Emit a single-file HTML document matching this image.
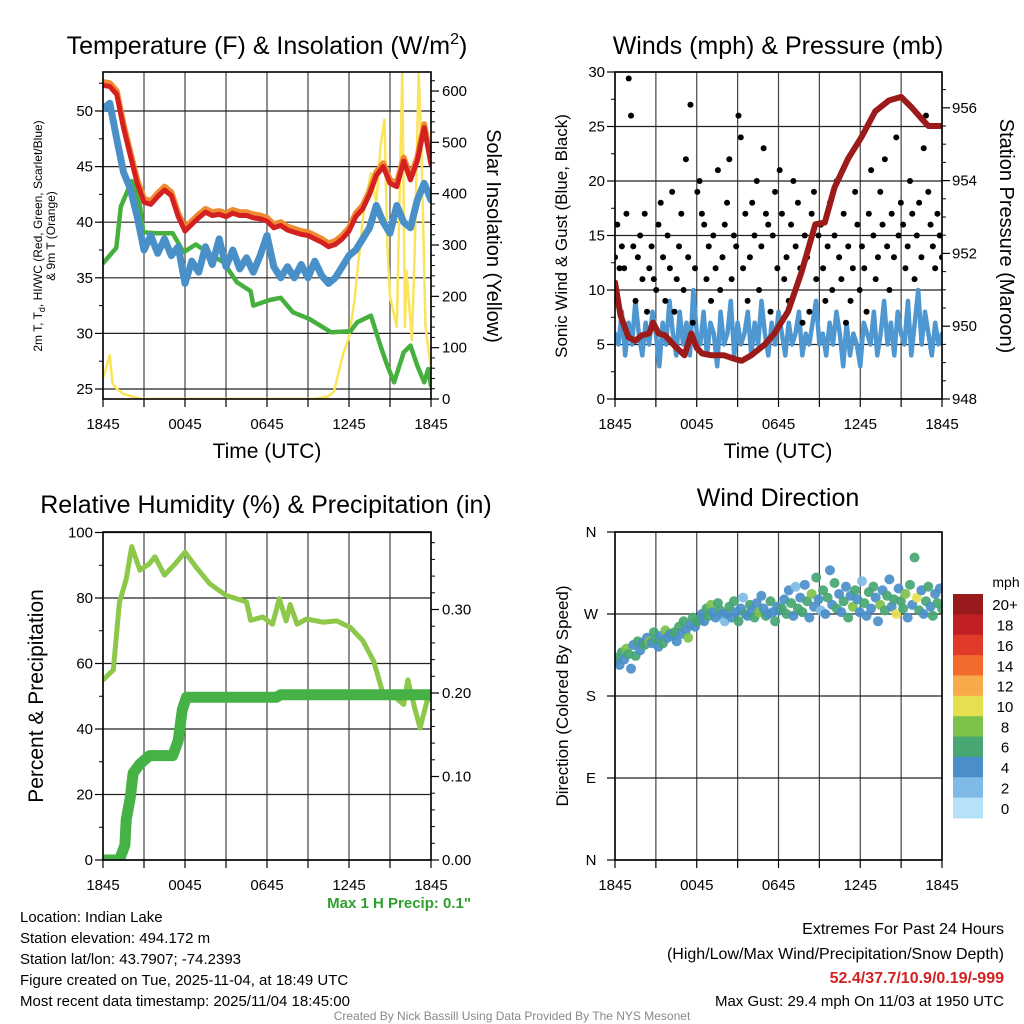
<!DOCTYPE html>
<html><head><meta charset="utf-8"><style>
html,body{margin:0;padding:0;background:#fff}
svg{display:block;font-family:"Liberation Sans",sans-serif}
</style></head><body>
<svg id="chart" width="1024" height="1024" viewBox="0 0 1024 1024" xmlns="http://www.w3.org/2000/svg">
<defs>
<clipPath id="c1"><rect x="103" y="72" width="328" height="327"/></clipPath>
<clipPath id="c2"><rect x="615" y="72" width="327" height="327"/></clipPath>
<clipPath id="c3"><rect x="103" y="532" width="328" height="328"/></clipPath>
<clipPath id="c4"><rect x="615" y="532" width="327" height="328"/></clipPath>
</defs>
<g font-size="25" fill="#000" text-anchor="middle">
<text x="267" y="54">Temperature (F) &amp; Insolation (W/m<tspan font-size="16" dy="-10">2</tspan><tspan dy="10">)</tspan></text>
<text x="778" y="54">Winds (mph) &amp; Pressure (mb)</text>
<text x="266" y="513">Relative Humidity (%) &amp; Precipitation (in)</text>
<text x="778" y="506">Wind Direction</text>
</g>
<g font-size="21" text-anchor="middle">
<text x="267" y="458">Time (UTC)</text>
<text x="778" y="458">Time (UTC)</text>
<text font-size="12" transform="translate(42,236) rotate(-90)">2m T, T<tspan font-size="9" dy="3">d</tspan><tspan dy="-3">, HI/WC (Red, Green, Scarlet/Blue)</tspan></text>
<text font-size="12" transform="translate(55,236) rotate(-90)">&amp; 9m T (Orange)</text>
<text font-size="20" transform="translate(487,236) rotate(90)">Solar Insolation (Yellow)</text>
<text font-size="17" transform="translate(567,236) rotate(-90)">Sonic Wind &amp; Gust (Blue, Black)</text>
<text font-size="20" transform="translate(1000,236) rotate(90)">Station Pressure (Maroon)</text>
<text font-size="21" transform="translate(43,696) rotate(-90)">Percent &amp; Precipitation</text>
<text font-size="17" transform="translate(568,696) rotate(-90)">Direction (Colored By Speed)</text>
</g>
<text x="471" y="908" font-size="15" font-weight="bold" fill="#2ea02e" text-anchor="end">Max 1 H Precip: 0.1"</text>
<g font-size="15" fill="#000">
<text x="20" y="922">Location: Indian Lake</text>
<text x="20" y="943">Station elevation: 494.172 m</text>
<text x="20" y="964">Station lat/lon: 43.7907; -74.2393</text>
<text x="20" y="985">Figure created on Tue, 2025-11-04, at 18:49 UTC</text>
<text x="20" y="1006">Most recent data timestamp: 2025/11/04 18:45:00</text>
</g>
<g font-size="16" text-anchor="end">
<text x="1004" y="934">Extremes For Past 24 Hours</text>
<text x="1004" y="959">(High/Low/Max Wind/Precipitation/Snow Depth)</text>
<text x="1004" y="983" font-weight="bold" fill="#d42020">52.4/37.7/10.9/0.19/-999</text>
<text x="1004" y="1006" font-size="15">Max Gust: 29.4 mph On 11/03 at 1950 UTC</text>
</g>
<text x="512" y="1020" font-size="12" fill="#888" text-anchor="middle">Created By Nick Bassill Using Data Provided By The NYS Mesonet</text>
</svg>
<script>
// ---------- DATA ----------
const xTickLabels = ["1845","0045","0645","1245","1845"];
const xTickHours = [0,6,12,18,24];
// Panel 1 (half-hourly, 0..24h)
const redT = [52.3,52.2,51.5,48.5,46,43.5,41.8,41.6,42.3,42.9,42.4,40.5,39.2,39.8,40.4,40.9,40.6,40.7,40.5,40.8,40.6,40.6,40.4,40.3,40.1,39.5,39.7,39.3,39.1,38.9,38.8,38.5,38.2,37.8,38.0,38.5,39.2,40.5,41.2,42.5,44.2,45,43.5,43.2,45.5,43.8,45.5,48.5,45.2];
const orangeT = [52.6,52.5,51.8,48.8,46.3,43.8,42.1,41.9,42.6,43.2,42.7,40.8,39.5,40.1,40.7,41.2,40.9,41.0,40.8,41.1,40.9,40.9,40.7,40.6,40.4,39.8,40.0,39.6,39.4,39.2,39.1,38.8,38.5,38.1,38.3,38.8,39.5,40.8,41.5,42.8,44.5,45.3,43.8,43.5,45.8,44.1,45.8,48.8,45.5];
const blueT = [50.2,50.7,47.5,44.5,43,40.5,37.5,38.8,37.2,38.5,37.0,37.8,34.5,36.5,35.5,37.8,36.2,38.5,36,37.5,35.8,36.8,35.5,37,38.8,36,35,36,35,36.2,35,36.5,35.2,34.5,35,36,37,37.5,38.5,39.5,41.5,40,39,41.5,40,39.5,42,43.5,42];
const greenHours = [0,0.97,1.3,2.1,2.7,2.95,3.9,5.1,5.9,6.8,7.6,8.8,9.8,10.8,11,12.2,13,13.9,15.1,16.7,18.1,18.6,19.6,20.3,20.8,21.3,22,22.5,23,23.5,23.8,24];
const greenT = [36.3,37.7,41.4,43.7,41.5,39.1,39.0,39.0,37.3,38.0,37.3,36.4,34.6,33.8,32.5,33.0,33.2,31.9,31.3,30.1,30.2,31.0,31.6,28.9,27.1,25.6,28.3,28.9,27.1,25.6,26.8,25.3];
const solarHours = [0,0.5,0.7,1,1.5,2.5,3,15.5,16.5,16.9,17.6,18.0,18.4,19.1,19.6,20.0,20.3,20.6,20.8,21.0,21.5,21.9,22.1,22.2,22.6,22.8,23.1,23.3,23.6,24];
const solarW = [40,85,30,20,10,2,0,0,5,15,90,120,193,372,440,380,490,545,300,200,140,640,140,250,115,280,640,490,140,60];
// Panel 2
const windMph = [6,5,8,4,7,5,9,6,4,7,5,8,6,3,7,5,9,6,4,8,5,7,4,10,6,5,8,4,7,6,3,8,5,6,9,4,7,5,6,8,4,7,5,9,6,4,7,5,8,6,4,7,5,6,8,4,6,5,7,9,5,6,4,7,5,8,6,3,7,4,6,5,3,7,6,5,8,4,6,9,5,7,4,8,6,5,9,4,7,10,5,8,6,4,7,5,6];
const gustMph = [13,16,12,14,12,17,29.4,26,14,9,13,15,11,17,8,12,14,11,10,16,18,13,9,15,12,19,8,11,14,17,10,22,13,27,7,12,19,20,17,16,11,14,9,15,12,21,10,13,16,18,22,11,15,14,26,24,12,17,9,13,18,15,20,10,14,23,17,16,8,15,19,12,21,17,11,13,9,16,20,14,18,12,7,15,13,8,17,19,11,15,16,12,9,14,18,10,15,20,13,11,17,7,14,9,12,19,16,10,14,12,8,17,21,15,11,13,19,16,22,14,10,17,13,24,15,18,16,12,14,20,17,11,15,18,13,23,26,19,16,14,12,17,15,13];
const pressHours = [0,0.4,0.98,1.5,1.96,2.5,2.8,3.2,3.67,4.4,5.1,5.6,6.0,6.4,7.1,8.0,8.8,9.3,10,11,11.7,12.7,13.7,14.7,15.4,16.1,17.1,18.1,19.1,20.1,21.0,21.8,22.5,23.0,24];
const pressMb = [951.2,950.3,949.7,949.6,949.75,949.8,950.1,949.8,949.75,949.45,949.2,949.8,949.4,949.25,949.2,949.2,949.1,949.05,949.2,949.5,949.8,950.4,951.5,952.8,952.85,953.8,954.6,955.2,955.9,956.2,956.3,956.0,955.7,955.5,955.5];
// Panel 3
const rhHours = [0,0.75,1.2,1.7,2.1,2.7,3.4,3.8,4.5,5.3,6.0,6.8,7.8,9.0,10.5,10.8,11.7,12.4,12.9,13.4,13.7,14.2,14.9,16.1,17.1,18.1,19.0,19.8,20.5,21.0,22.0,22.3,22.8,23.2,23.7,24];
const rhPct = [55,58,78.6,85.7,95.7,88.5,90.5,92.6,87,90.5,94,89.5,84.4,80.8,78.8,73.2,74.2,72,79.8,73,78,72,73.6,72.6,73,71,67,60.8,50.6,51,47.5,55,46.5,40.3,48.5,49.5];
const precipHours = [0,1.2,1.6,1.7,2.0,2.2,2.7,3.4,5.1,5.5,5.8,6.1,12.7,13.0,24];
const precipIn = [0,0,0.018,0.048,0.075,0.104,0.115,0.125,0.125,0.143,0.18,0.195,0.195,0.198,0.198];
// Panel 4
const dirDeg = [218,222,214,228,220,232,226,210,236,224,240,230,238,236,244,240,238,250,242,234,246,238,252,244,248,246,250,240,256,248,262,252,244,258,266,256,262,264,270,262,276,268,280,272,266,282,274,270,262,270,278,266,284,272,262,276,288,270,268,280,274,266,282,272,290,276,268,270,284,272,262,278,274,276,286,270,296,282,268,300,276,288,272,302,284,266,292,278,310,286,274,296,270,288,318,280,304,276,292,272,284,300,266,290,278,296,286,272,306,282,268,294,276,300,288,262,280,296,274,290,308,278,286,270,298,284,276,292,266,302,280,332,288,274,296,270,284,300,278,268,292,282,298,276];
const dirSpeed = [5,6,4,7,5,9,6,4,5,7,6,4,5,6,4,8,5,6,7,4,5,6,8,5,4,5,6,4,7,5,6,4,8,5,6,4,7,6,5,4,7,6,8,5,4,6,7,5,3,4,6,5,7,4,6,5,3,6,4,7,5,6,4,8,5,4,6,5,7,4,6,5,4,6,4,7,5,6,4,3,6,5,7,4,6,5,8,4,6,5,3,7,4,6,5,4,7,6,4,5,6,4,7,5,8,6,4,5,3,6,4,7,5,6,4,5,9,4,6,7,5,4,6,10,5,6,7,8,4,6,5,7,10,6,4,5,6,7,5,6,4,6,5,7];
const speedBinLabels = ["0","2","4","6","8","10","12","14","16","18","20+"];
const speedBinColors = ["#b5e2f8","#7fbbe6","#4a8fc9","#47a672","#7dc24b","#e5e04f","#f8a94a","#f26a2c","#e03a2a","#c01f24","#991a1c"];

// ---------- RENDER ----------
const NS = "http://www.w3.org/2000/svg";
const svg = document.getElementById('chart');
function mk(tag, attrs, parent){ const e=document.createElementNS(NS,tag); for(const k in attrs) e.setAttribute(k,attrs[k]); (parent||svg).appendChild(e); return e; }
const P1={x0:103,x1:431,y0:72,y1:399}, P2={x0:615,x1:942,y0:72,y1:399}, P3={x0:103,x1:431,y0:532,y1:860}, P4={x0:615,x1:942,y0:532,y1:860};
const xs=(p,h)=>p.x0+h/24*(p.x1-p.x0);
const yT=t=>389-(t-25)*11.12, ySol=w=>399-w*0.5133;
const yW=v=>399-v*(327/30), yP=p=>399-(p-948)*36.4;
const yRH=r=>860-r*3.275, yPr=i=>860-i*835;
const yD=d=>860-d*(328/360);

function frame(p, name){
  for(let h=0;h<=24;h+=3){
    const g=mk('line',{x1:xs(p,h),x2:xs(p,h),y1:p.y0,y2:p.y1,stroke:'#444','stroke-width':1.2});
    
    
    const t=mk('line',{x1:xs(p,h),x2:xs(p,h),y1:p.y1,y2:p.y1+8,stroke:'#000','stroke-width':1.2});
    
    
  }
  xTickHours.forEach((h,i)=>{
    const t=mk('text',{x:xs(p,h),y:p.y1+30,'font-size':15,'text-anchor':'middle'});
    t.textContent=xTickLabels[i];
    
    
  });
}
function hgrid(p,name,vals,fy,fmt,x,anchor,grid){
  vals.forEach(v=>{
    const y=fy(v);
    if(grid){const g=mk('line',{x1:p.x0,x2:p.x1,y1:y,y2:y,stroke:'#222','stroke-width':1.2});
      
      }
    const tx = anchor==='end'? p.x0 : p.x1;
    const tk=mk('line',{x1:tx,x2:anchor==='end'?tx-8:tx+8,y1:y,y2:y,stroke:'#000','stroke-width':1.2});
    
    
    const t=mk('text',{x:x,y:y+5,'font-size':15,'text-anchor':anchor});
    t.textContent=fmt(v);
    
    
  });
}
function minor(p,name,vals,fy,side){
  vals.forEach(v=>{const y=fy(v); const x=side==='l'?p.x0:p.x1;
    const m=mk('line',{x1:x,x2:side==='l'?x-4:x+4,y1:y,y2:y,stroke:'#000','stroke-width':1});
    
    });
}
function path(pts){return pts.map((q,i)=>(i?'L':'M')+q[0].toFixed(1)+' '+q[1].toFixed(1)).join(' ');}
function border(p,name){const r=mk('rect',{x:p.x0,y:p.y0,width:p.x1-p.x0,height:p.y1-p.y0,fill:'none',stroke:'#000','stroke-width':1.6});
  
  }

// Panel 1
frame(P1,'temp');
hgrid(P1,'temp',[25,30,35,40,45,50],yT,v=>v,93,'end',true);
minor(P1,'temp',[27.5,32.5,37.5,42.5,47.5,52.5],yT,'l');
hgrid(P1,'solar',[0,100,200,300,400,500,600],ySol,v=>v,442,'start',false);
minor(P1,'solar',[20,40,60,80,120,140,160,180,220,240,260,280,320,340,360,380,420,440,460,480,520,540,560,580,620],ySol,'r');
const g1=mk('g',{'clip-path':'url(#c1)',fill:'none','stroke-linejoin':'round','stroke-linecap':'round'});


const hh=i=>i*0.5;
let s=mk('path',{d:path(solarHours.map((h,i)=>[xs(P1,h),ySol(solarW[i])])),stroke:'#fbe35a','stroke-width':2.5},g1);


s=mk('path',{d:path(greenHours.map((h,i)=>[xs(P1,h),yT(greenT[i])])),stroke:'#46b03e','stroke-width':4.5},g1);


s=mk('path',{d:path(blueT.map((v,i)=>[xs(P1,hh(i)),yT(v)])),stroke:'#4a90c8','stroke-width':7},g1);


s=mk('path',{d:path(orangeT.map((v,i)=>[xs(P1,hh(i)),yT(v)])),stroke:'#f08a30','stroke-width':6},g1);


s=mk('path',{d:path(redT.map((v,i)=>[xs(P1,hh(i)),yT(v)])),stroke:'#d42020','stroke-width':5},g1);


border(P1,'temp');

// Panel 2
frame(P2,'wind');
hgrid(P2,'wind',[0,5,10,15,20,25,30],yW,v=>v,605,'end',true);
minor(P2,'wind',[2.5,7.5,12.5,17.5,22.5,27.5],yW,'l');
hgrid(P2,'pressure',[948,950,952,954,956],yP,v=>v,952,'start',false);
minor(P2,'pressure',[948.5,949,949.5,950.5,951,951.5,952.5,953,953.5,954.5,955,955.5,956.5],yP,'r');
const g2=mk('g',{'clip-path':'url(#c2)','stroke-linejoin':'round','stroke-linecap':'round'});


s=mk('path',{d:path(windMph.map((v,i)=>[xs(P2,i*24/(windMph.length-1)),yW(v)])),stroke:'#4f97d0','stroke-width':4.5,fill:'none'},g2);


gustMph.forEach((v,i)=>{
  const c=mk('circle',{cx:xs(P2,i*24/(gustMph.length-1)),cy:yW(v),r:3,fill:'#000'},g2);
  
  
});
s=mk('path',{d:path(pressHours.map((h,i)=>[xs(P2,h),yP(pressMb[i])])),stroke:'#9b1b1b','stroke-width':6,fill:'none'},g2);


border(P2,'wind');

// Panel 3
frame(P3,'rh');
hgrid(P3,'rh',[0,20,40,60,80,100],yRH,v=>v,93,'end',true);
minor(P3,'rh',[10,30,50,70,90],yRH,'l');
hgrid(P3,'precip',[0,0.1,0.2,0.3],yPr,v=>v.toFixed(2),442,'start',false);
minor(P3,'precip',[0.02,0.04,0.06,0.08,0.12,0.14,0.16,0.18,0.22,0.24,0.26,0.28,0.32,0.34,0.36,0.38],yPr,'r');
const g3=mk('g',{'clip-path':'url(#c3)',fill:'none','stroke-linejoin':'round','stroke-linecap':'round'});


s=mk('path',{d:path(rhHours.map((h,i)=>[xs(P3,h),yRH(rhPct[i])])),stroke:'#8dc84a','stroke-width':5},g3);


s=mk('path',{d:path(precipHours.map((h,i)=>[xs(P3,h),yPr(precipIn[i])])),stroke:'#46b246','stroke-width':11},g3);


border(P3,'rh');

// Panel 4
frame(P4,'dir');
const dirLabels=["N","E","S","W","N"];
[0,90,180,270,360].forEach((d,i)=>{
  const y=yD(d);
  const g=mk('line',{x1:P4.x0,x2:P4.x1,y1:y,y2:y,stroke:'#222','stroke-width':1.2});
  
  
  const tk=mk('line',{x1:P4.x0,x2:P4.x0-8,y1:y,y2:y,stroke:'#000','stroke-width':1.2});
  
  
  const t=mk('text',{x:591,y:y+5,'font-size':15,'text-anchor':'middle'});
  t.textContent=dirLabels[i];
  
  
});
const g4=mk('g',{'clip-path':'url(#c4)'});


dirDeg.forEach((d,i)=>{
  const bin=Math.min(10,Math.floor(dirSpeed[i]/2));
  const c=mk('circle',{cx:xs(P4,i*24/(dirDeg.length-1)),cy:yD(d),r:5,fill:speedBinColors[bin],'fill-opacity':0.92},g4);
  
  
});
border(P4,'dir');
// colorbar
const cbTop=594, cbH=224/11;
let cbl=mk('text',{x:1006,y:587,'font-size':14,'text-anchor':'middle'});
cbl.textContent='mph';


for(let k=0;k<11;k++){
  const idx=10-k;
  const r=mk('rect',{x:953,y:cbTop+k*cbH,width:30,height:cbH+0.5,fill:speedBinColors[idx]});
  
  
  const t=mk('text',{x:1005,y:cbTop+k*cbH+cbH/2+6,'font-size':15,'text-anchor':'middle'});
  t.textContent=speedBinLabels[idx];
  
  
}
</script>
</body></html>
